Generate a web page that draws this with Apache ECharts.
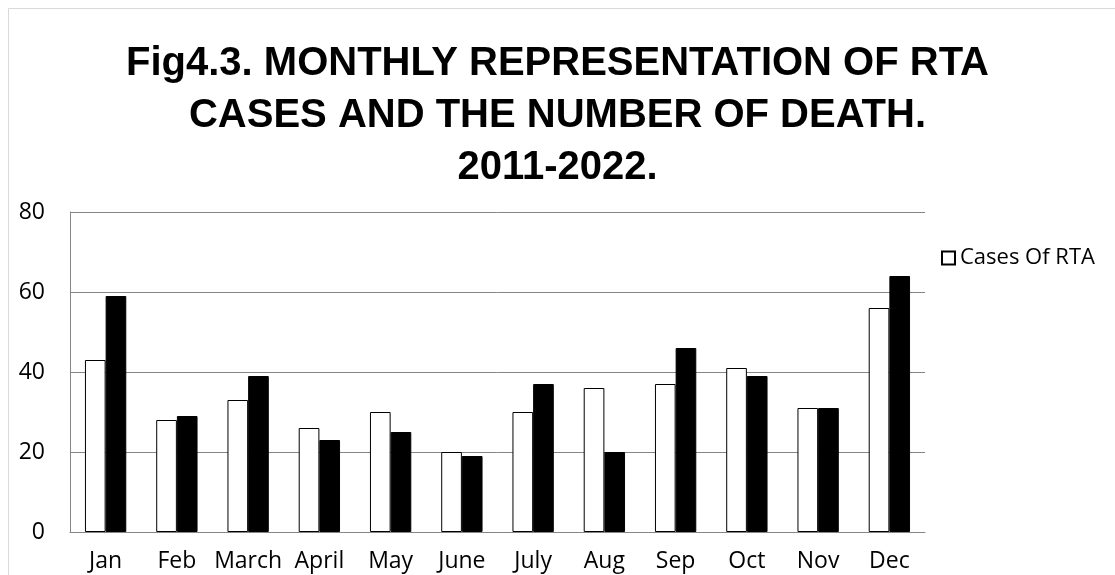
<!DOCTYPE html>
<html><head><meta charset="utf-8">
<script src="https://cdn.jsdelivr.net/npm/echarts@6/dist/echarts.min.js"></script>
<style>html,body{margin:0;padding:0;background:#fff}#c{width:1115px;height:575px}</style>
</head><body><div id="c"></div>
<script>
const months = ['Jan','Feb','March','April','May','June','July','Aug','Sep','Oct','Nov','Dec'];
const casesOfRTA = [43,28,33,26,30,20,30,36,37,41,31,56];
const numberOfDeath = [59,29,39,23,25,19,37,20,46,39,31,64];
const yTicks = {min:0,max:80,interval:20};
const TFONT = "'Liberation Sans',sans-serif";
const FONT = "'Open Sans',sans-serif";
const chart = echarts.init(document.getElementById('c'));
chart.setOption({
  animation:false,
  backgroundColor:'#fff',
  graphic:[{type:'rect',shape:{x:8.5,y:8.5,width:1200,height:700},style:{fill:'none',stroke:'#d9d9d9',lineWidth:1}}],
  title:{text:'Fig4.3. MONTHLY REPRESENTATION OF RTA\nCASES AND THE NUMBER OF DEATH.\n2011-2022.',left:'center',top:33,
    textStyle:{fontFamily:TFONT,fontWeight:'bold',fontSize:40,lineHeight:52,color:'#000'}},
  legend:{data:[{name:'Cases Of RTA',icon:'rect'}],left:936,top:242,itemWidth:13,itemHeight:13,itemGap:6,
    textStyle:{fontFamily:FONT,fontSize:22,color:'#000'}},
  grid:{left:70,right:190,top:212,bottom:43,containLabel:false},
  xAxis:{type:'category',data:months,
    axisLine:{lineStyle:{color:'#868686'}},axisTick:{show:false},
    axisLabel:{fontFamily:FONT,fontSize:23,color:'#000',margin:18,interval:0}},
  yAxis:{type:'value',min:yTicks.min,max:yTicks.max,interval:yTicks.interval,
    axisLine:{show:true,lineStyle:{color:'#868686'}},axisTick:{show:false},
    splitLine:{lineStyle:{color:'#868686'}},
    axisLabel:{fontFamily:FONT,fontSize:23,color:'#000',margin:25}},
  series:[
    {name:'Cases Of RTA',type:'bar',data:casesOfRTA,barGap:'0%',barCategoryGap:'42%',
      itemStyle:{color:'#fff',borderColor:'#000',borderWidth:1}},
    {name:'Number Of Death',type:'bar',data:numberOfDeath,
      itemStyle:{color:'#000',borderColor:'#000',borderWidth:1}}
  ]
});
</script></body></html>
